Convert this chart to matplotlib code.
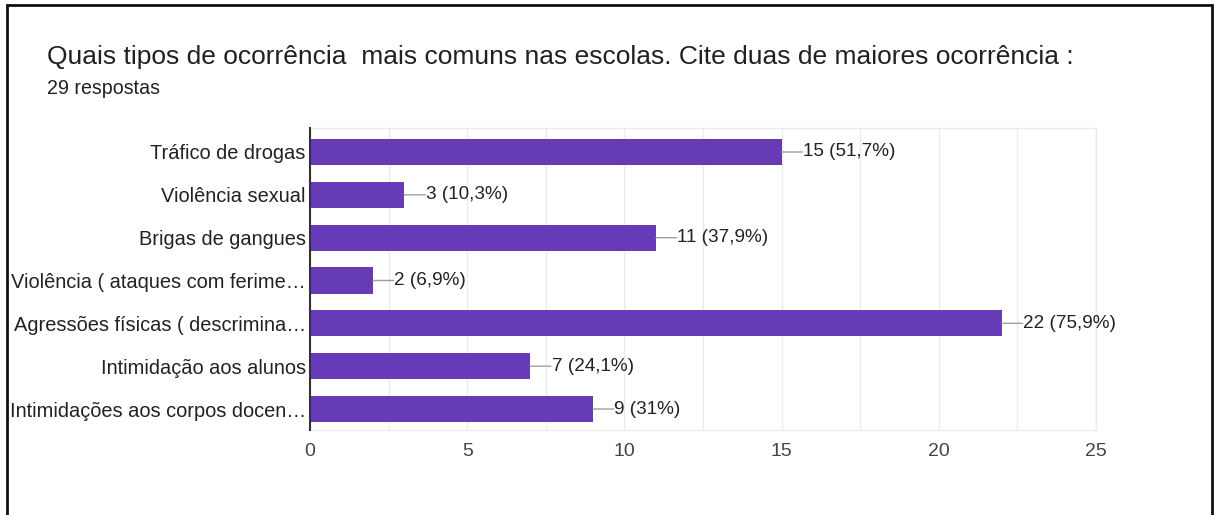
"""Bar chart: tipos de ocorrência mais comuns nas escolas."""
import matplotlib
matplotlib.use("Agg")
from matplotlib import pyplot as plt
from matplotlib.patches import Rectangle

categories = [
    "Tráfico de drogas",
    "Violência sexual",
    "Brigas de gangues",
    "Violência ( ataques com ferime…",
    "Agressões físicas ( descrimina…",
    "Intimidação aos alunos",
    "Intimidações aos corpos docen…",
]
counts = [15, 3, 11, 2, 22, 7, 9]
percent_labels = ["51,7%", "10,3%", "37,9%", "6,9%", "75,9%", "24,1%", "31%"]
x_ticks = [0, 5, 10, 15, 20, 25]

W, H = 1219, 515
FONT = "Liberation Sans"
fig = plt.figure(figsize=(W / 100, H / 100), dpi=100)
fig.patch.set_facecolor("white")

# outer border of the card
fig.add_artist(Rectangle((6.5 / W, -0.01), (1212 - 6.5) / W, 1 - 5 / H + 0.01,
                         transform=fig.transFigure, fill=False,
                         edgecolor="#111111", linewidth=2))

title = fig.text(47 / W, 1 - 57 / H,
                 "Quais tipos de ocorrência  mais comuns nas escolas. Cite duas de maiores ocorrência :",
                 fontsize=16, family=FONT, color="#202124", va="center", ha="left")
sub = fig.text(47 / W, 1 - 88 / H, "29 respostas", fontsize=12, family=FONT,
               color="#202124", va="center", ha="left")

# scale header text so it spans the same width as in the source
renderer = fig.canvas.get_renderer()
for t, target in ((title, 1025), (sub, 113)):
    w = t.get_window_extent(renderer).width
    t.set_fontsize(t.get_fontsize() * target / w)

ax = fig.add_axes([310 / W, 1 - 430 / H, (1096 - 310) / W, (430 - 128) / H])
ypos = list(range(len(categories)))
ax.barh(ypos, counts, height=0.61, color="#673AB7", zorder=3)

for y, c, p in zip(ypos, counts, percent_labels):
    ax.annotate("", xy=(c, y), xytext=(15, 0), textcoords="offset points",
                arrowprops=dict(arrowstyle="-", color="#9e9e9e", lw=1,
                                shrinkA=0, shrinkB=0), zorder=4)
    ax.annotate(f"{c} ({p})", xy=(c, y), xytext=(15.5, 0),
                textcoords="offset points", va="center", ha="left",
                fontsize=13.6, family=FONT, color="#222222")

ax.set_xlim(0, 25)
ax.set_ylim(6.49, -0.56)
ax.set_xticks(x_ticks)
ax.set_xticks([2.5, 7.5, 12.5, 17.5, 22.5], minor=True)
ax.set_yticks(ypos)
ax.set_yticklabels(categories)
ax.grid(axis="x", which="both", color="#ebebeb", linewidth=1, zorder=0)
ax.tick_params(axis="both", which="both", length=0)
ax.tick_params(axis="x", pad=9, labelsize=14, labelcolor="#444444")
ax.tick_params(axis="y", pad=3, labelsize=14.4, labelcolor="#222222")
for lab in ax.get_xticklabels() + ax.get_yticklabels():
    lab.set_family(FONT)

for side in ("top", "right", "bottom"):
    ax.spines[side].set_color("#ebebeb")
    ax.spines[side].set_linewidth(1)
ax.spines["left"].set_color("#333333")
ax.spines["left"].set_linewidth(1.5)
ax.spines["left"].set_zorder(5)

fig.savefig("out.png", dpi=100)
plt.close(fig)
